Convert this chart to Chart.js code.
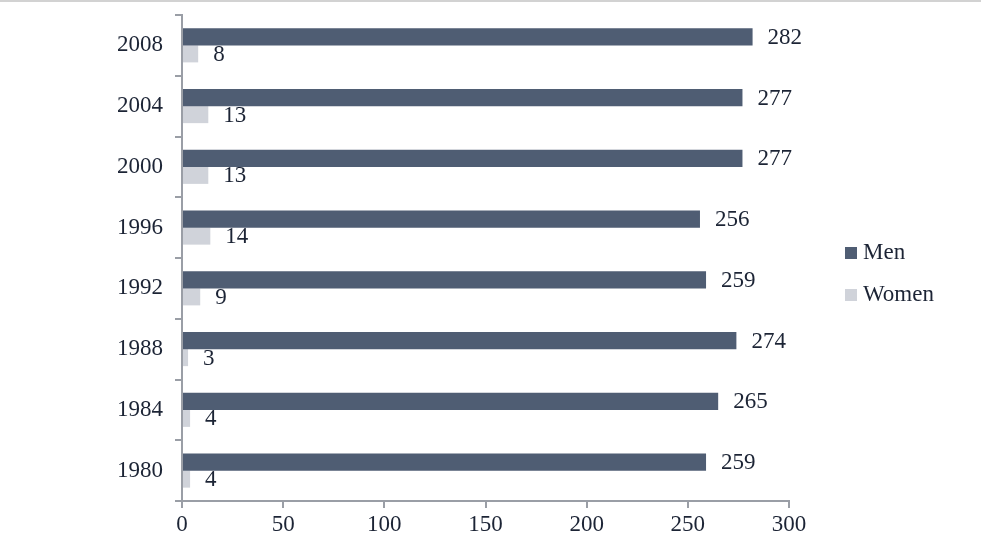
<!DOCTYPE html>
<html>
<head>
<meta charset="utf-8">
<script src="https://cdn.jsdelivr.net/npm/chart.js@4"></script>
<style>
html,body{margin:0;padding:0;background:#fff;}
#wrap{width:981px;height:544px;position:relative;}
</style>
</head>
<body>
<div id="wrap"><canvas id="c" width="981" height="544"></canvas></div>
<script>
const years = ['2008','2004','2000','1996','1992','1988','1984','1980'];
const men = [282,277,277,256,259,274,265,259];
const women = [8,13,13,14,9,3,4,4];
const xTicks = [0,50,100,150,200,250,300];
const seriesNames = ['Men','Women'];

const FONT = "'Liberation Serif', 'Times New Roman', serif";
const FSIZE = 23;
const TEXT = '#1c2435';
const AXIS = '#9a9ea6';

const valueLabels = {
  id: 'valueLabels',
  afterDatasetsDraw(chart) {
    const ctx = chart.ctx;
    ctx.save();
    ctx.font = FSIZE + 'px ' + FONT;
    ctx.fillStyle = TEXT;
    ctx.textBaseline = 'middle';
    ctx.textAlign = 'left';
    chart.data.datasets.forEach((ds, i) => {
      chart.getDatasetMeta(i).data.forEach((bar, j) => {
        ctx.fillText(String(ds.data[j]), bar.x + 15, bar.y + 1);
      });
    });
    ctx.restore();
  }
};

const customLegend = {
  id: 'customLegend',
  afterDraw(chart) {
    const ctx = chart.ctx;
    ctx.save();
    ctx.fillStyle = '#d2d2d2';
    ctx.fillRect(0, 0, chart.width, 2);
    ctx.font = FSIZE + 'px ' + FONT;
    ctx.textBaseline = 'middle';
    ctx.textAlign = 'left';
    chart.data.datasets.forEach((ds, i) => {
      const y = 253 + i * 42;
      ctx.fillStyle = ds.backgroundColor;
      ctx.fillRect(845, y - 6, 12, 12);
      ctx.fillStyle = TEXT;
      ctx.fillText(ds.label, 863, y);
    });
    ctx.restore();
  }
};

new Chart(document.getElementById('c'), {
  type: 'bar',
  data: {
    labels: years,
    datasets: [
      { label: seriesNames[0], data: men, backgroundColor: '#4f5d73', categoryPercentage: 0.56, barPercentage: 1.0 },
      { label: seriesNames[1], data: women, backgroundColor: '#d0d3da', categoryPercentage: 0.56, barPercentage: 1.0 }
    ]
  },
  options: {
    indexAxis: 'y',
    responsive: false,
    animation: false,
    devicePixelRatio: 1,
    layout: { padding: { top: 15, right: 192, bottom: 0, left: 0 } },
    plugins: { legend: { display: false }, tooltip: { enabled: false } },
    scales: {
      x: {
        min: 0, max: 300,
        afterBuildTicks(axis) { axis.ticks = xTicks.map(v => ({ value: v })); },
        afterFit(axis) { axis.height = 43; },
        border: { display: true, color: AXIS, width: 2 },
        grid: { drawOnChartArea: false, drawTicks: true, tickLength: 7, color: AXIS, lineWidth: 2 },
        ticks: { font: { family: FONT, size: FSIZE }, color: TEXT, padding: 3 }
      },
      y: {
        afterFit(axis) { axis.width = 182; axis.paddingTop = 0; axis.paddingBottom = 0; },
        border: { display: true, color: AXIS, width: 2 },
        grid: { offset: true, drawOnChartArea: false, drawTicks: true, tickLength: 7, color: AXIS, lineWidth: 2 },
        ticks: { font: { family: FONT, size: FSIZE }, color: TEXT, padding: 12 }
      }
    }
  },
  plugins: [valueLabels, customLegend]
});
</script>
</body>
</html>
